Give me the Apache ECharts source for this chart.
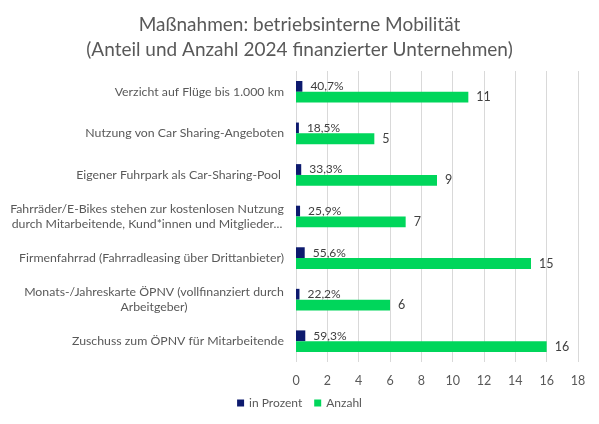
<!DOCTYPE html>
<html>
<head>
<meta charset="utf-8">
<script src="https://cdn.jsdelivr.net/npm/echarts@6/dist/echarts.min.js"></script>
<style>
    html, body { margin: 0; padding: 0; background: #fff; }
    #main { width: 599px; height: 424px; }
</style>
</head>
<body>
<div id="main"></div>
<script>
// Daten ----------------------------
var categories = [
    'Verzicht auf Flüge bis 1.000 km',
    'Nutzung von Car Sharing-Angeboten',
    'Eigener Fuhrpark als Car-Sharing-Pool ',
    'Fahrräder/E-Bikes stehen zur kostenlosen Nutzung\ndurch Mitarbeitende, Kund*innen und Mitglieder...',
    'Firmenfahrrad (Fahrradleasing über Drittanbieter)',
    'Monats-/Jahreskarte ÖPNV (vollfinanziert durch\nArbeitgeber)',
    'Zuschuss zum ÖPNV für Mitarbeitende'
];
var prozent = [0.407, 0.185, 0.333, 0.259, 0.556, 0.222, 0.593];
var anzahl = [11, 5, 9, 7, 15, 6, 16];
var xTicks = [0, 2, 4, 6, 8, 10, 12, 14, 16, 18];

var fontName = 'Lato';
var textColor = '#595959';
var catSize = 12.3;

// Breite der längsten Zeile messen, damit mehrzeilige Labels zentriert werden
var ctx = document.createElement('canvas').getContext('2d');
ctx.font = catSize + 'px ' + fontName;
function blockWidth(text) {
    var w = 0;
    text.split('\n').forEach(function (line) {
        w = Math.max(w, ctx.measureText(line).width);
    });
    return Math.ceil(w);
}

var myChart = echarts.init(document.getElementById('main'));

var richStyles = {};
categories.forEach(function (c, i) {
    if (c.indexOf('\n') >= 0) {
        richStyles['w' + i] = {
            color: textColor,
            fontSize: catSize,
            lineHeight: 15,
            width: blockWidth(c),
            align: 'center'
        };
    }
});

var option = {
    backgroundColor: '#ffffff',
    textStyle: { fontFamily: fontName },
    title: {
        text: 'Maßnahmen: betriebsinterne Mobilität\n(Anteil und Anzahl 2024 finanzierter Unternehmen)',
        left: 'center',
        top: 7,
        textStyle: {
            color: textColor,
            fontSize: 19,
            fontWeight: 'normal',
            lineHeight: 25,
            fontFamily: fontName
        }
    },
    legend: {
        bottom: 10,
        left: 'center',
        icon: 'rect',
        itemWidth: 7,
        itemHeight: 7,
        itemGap: 12,
        textStyle: { color: textColor, fontSize: 12 },
        data: ['in Prozent', 'Anzahl']
    },
    grid: {
        left: 296,
        right: 21,
        top: 71,
        bottom: 62
    },
    xAxis: {
        type: 'value',
        min: 0,
        max: xTicks[xTicks.length - 1],
        interval: 2,
        axisLine: { show: false },
        axisTick: { show: false },
        axisLabel: { color: textColor, fontSize: 12.5, margin: 12 },
        splitLine: { lineStyle: { color: '#d9d9d9', width: 1 } }
    },
    yAxis: {
        type: 'category',
        inverse: true,
        data: categories,
        axisLine: { show: false },
        axisTick: { show: false },
        axisLabel: {
            color: textColor,
            fontSize: catSize,
            margin: 12,
            lineHeight: 15,
            // mehrzeilige Labels: feste Breite, Zeilen darin zentriert
            formatter: function (value) {
                if (value.indexOf('\n') < 0) {
                    return value;
                }
                var key = 'w' + categories.indexOf(value);
                return value.split('\n').map(function (l) {
                    return '{' + key + '|' + l + '}';
                }).join('\n');
            },
            rich: richStyles
        }
    },
    series: [
        {
            name: 'in Prozent',
            type: 'bar',
            data: prozent,
            barGap: 0,
            barCategoryGap: '48%',
            itemStyle: { color: '#0d1a6e' },
            label: {
                show: true,
                position: 'right',
                distance: 8,
                color: '#404040',
                fontSize: 12,
                formatter: function (p) {
                    return (p.value * 100).toFixed(1).replace('.', ',') + '%';
                }
            }
        },
        {
            name: 'Anzahl',
            type: 'bar',
            data: anzahl,
            barGap: 0,
            barCategoryGap: '48%',
            itemStyle: { color: '#00d65b' },
            label: {
                show: true,
                position: 'right',
                distance: 8,
                color: '#404040',
                fontSize: 12.5
            }
        }
    ]
};

myChart.setOption(option);
</script>
</body>
</html>
